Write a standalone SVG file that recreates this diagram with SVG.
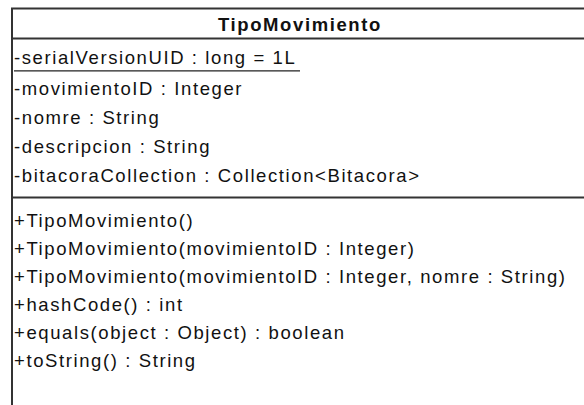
<svg xmlns="http://www.w3.org/2000/svg" width="584" height="405" viewBox="0 0 584 405">
  <style>
    .box { fill: #ffffff; stroke: #333333; stroke-width: 2; }
    .sep { stroke: #333333; stroke-width: 2; fill: none; }
    .ul { stroke: #222222; stroke-width: 1.3; }
    text { font-family: "Liberation Sans", Arial, sans-serif; font-size: 18.5px; fill: #111111; letter-spacing: 1.6px; }
    .title { font-weight: bold; }
  </style>
  <rect width="584" height="405" fill="#ffffff"/>
  <g id="TipoMovimiento">
    <rect class="box" x="12" y="8.5" width="600" height="420"/>
    <line class="sep" x1="12" y1="38.5" x2="612" y2="38.5"/>
    <line class="sep" x1="12" y1="197.5" x2="612" y2="197.5"/>
    <text class="title" x="218" y="31">TipoMovimiento</text>
    <text x="14" y="64">-serialVersionUID : long = 1L</text>
    <line class="ul" x1="14" y1="70.8" x2="300" y2="70.8"/>
    <text x="14" y="95">-movimientoID : Integer</text>
    <text x="14" y="124">-nomre : String</text>
    <text x="14" y="153">-descripcion : String</text>
    <text x="14" y="182">-bitacoraCollection : Collection&lt;Bitacora&gt;</text>
    <text x="14" y="227">+TipoMovimiento()</text>
    <text x="14" y="255">+TipoMovimiento(movimientoID : Integer)</text>
    <text x="14" y="283">+TipoMovimiento(movimientoID : Integer, nomre : String)</text>
    <text x="14" y="311">+hashCode() : int</text>
    <text x="14" y="339">+equals(object : Object) : boolean</text>
    <text x="14" y="367">+toString() : String</text>
  </g>
  <g id="connectors"></g>
</svg>
